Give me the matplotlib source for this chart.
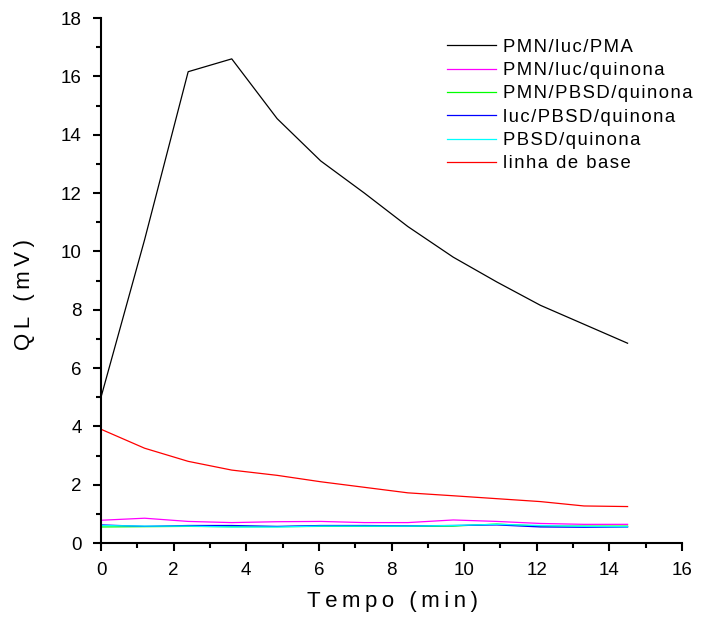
import matplotlib
matplotlib.use("Agg")
import matplotlib.pyplot as plt
from matplotlib.ticker import MultipleLocator

plt.rcParams['font.family'] = ['Liberation Sans', 'DejaVu Sans']

tempo = [0, 1.2, 2.4, 3.6, 4.85, 6.05, 7.25, 8.45, 9.7, 10.9, 12.1, 13.3, 14.5]

pmn_luc_pma = [5.0, 10.4, 16.16, 16.6, 14.55, 13.1, 12.0, 10.85, 9.8, 8.95, 8.15, 7.5, 6.85]
pmn_luc_quinona = [0.78, 0.85, 0.74, 0.70, 0.73, 0.74, 0.70, 0.70, 0.79, 0.74, 0.67, 0.64, 0.64]
pmn_pbsd_quinona = [0.55, 0.56, 0.57, 0.56, 0.56, 0.57, 0.57, 0.57, 0.58, 0.65, 0.58, 0.58, 0.58]
luc_pbsd_quinona = [0.62, 0.57, 0.60, 0.60, 0.57, 0.60, 0.60, 0.59, 0.60, 0.62, 0.55, 0.54, 0.55]
pbsd_quinona = [0.60, 0.58, 0.58, 0.55, 0.55, 0.58, 0.58, 0.58, 0.60, 0.64, 0.60, 0.57, 0.56]
linha_base = [3.9, 3.25, 2.8, 2.5, 2.32, 2.1, 1.91, 1.72, 1.62, 1.52, 1.42, 1.27, 1.25]

labels = ["PMN/luc/PMA", "PMN/luc/quinona", "PMN/PBSD/quinona",
          "luc/PBSD/quinona", "PBSD/quinona", "linha de base"]
colors = ["black", "#ff00ff", "#00ff00", "#0000ff", "#00ffff", "#ff0000"]
data = [pmn_luc_pma, pmn_luc_quinona, pmn_pbsd_quinona,
        luc_pbsd_quinona, pbsd_quinona, linha_base]


def spaced(s, sep="\u2009"):
    # the original text is drawn with wide letter spacing
    return sep.join(s)


fig = plt.figure(figsize=(7.03, 6.22), dpi=100)
ax = fig.add_axes([0.1437, 0.127, 0.8265, 0.844])

for vals, col, lab in zip(data, colors, labels):
    ax.plot(tempo, vals, color=col, lw=0.9, label=spaced(lab, "\u200a"))

ax.set_xlim(0, 16)
ax.set_ylim(0, 18)
ax.xaxis.set_major_locator(MultipleLocator(2))
ax.xaxis.set_minor_locator(MultipleLocator(1))
ax.yaxis.set_major_locator(MultipleLocator(2))
ax.yaxis.set_minor_locator(MultipleLocator(1))

for s in ["top", "right"]:
    ax.spines[s].set_visible(False)
for s in ["left", "bottom"]:
    ax.spines[s].set_linewidth(1.5)

ax.tick_params(which="major", direction="out", length=6, width=1.5, labelsize=13.5, pad=8)
ax.tick_params(which="minor", direction="out", length=3.5, width=1.5)

ax.set_xlabel(spaced("Tempo (min)"), fontsize=16)
ax.set_ylabel(spaced("QL (mV)"), fontsize=16)
ax.xaxis.set_label_coords(0.501, -0.092)
ax.yaxis.set_label_coords(-0.114, 0.474)

ax.legend(loc="upper left", bbox_to_anchor=(0.566, 0.992), frameon=False,
          fontsize=13.3, handlelength=2.7, handletextpad=0.38, labelspacing=0.34)

fig.savefig("out.png", dpi=100)
